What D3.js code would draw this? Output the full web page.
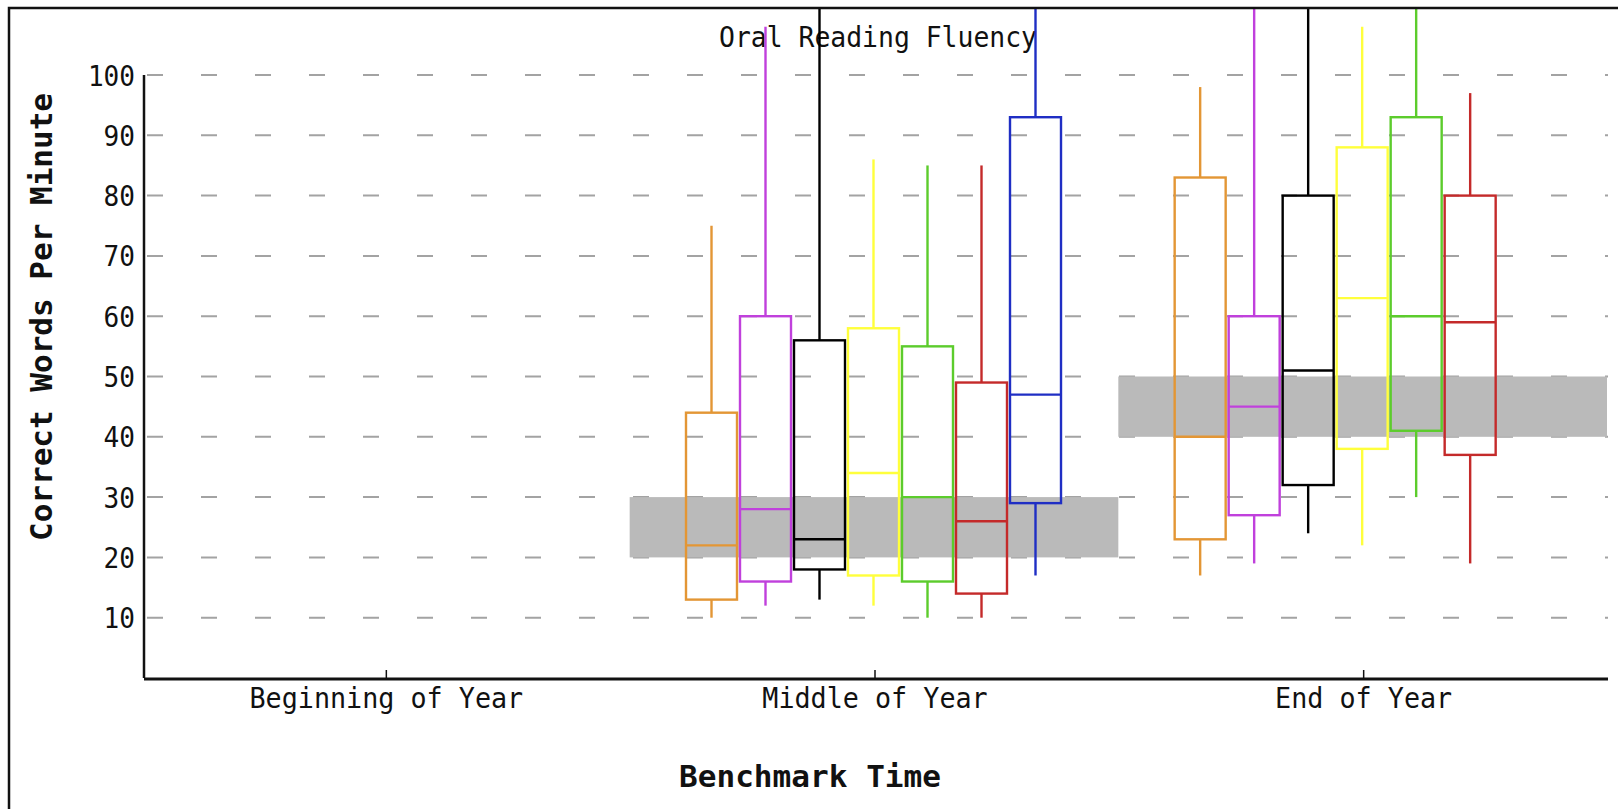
<!DOCTYPE html>
<html>
<head>
<meta charset="utf-8">
<script src="https://cdn.jsdelivr.net/npm/d3@7"></script>
<style>
  body { margin: 0; background: #fff; }
  text { font-family: "DejaVu Sans Mono", "Liberation Mono", monospace; fill: #111; }
</style>
</head>
<body>
<div id="container"></div>
<script>
// data

const benchmarks = ["Beginning of Year", "Middle of Year", "End of Year"]
const yTicks = [10, 20, 30, 40, 50, 60, 70, 80, 90, 100]

// benchmark target range per time (none for beginning)
const targetLow = [null, 20, 40]
const targetHigh = [null, 30, 50]

// middle of year, one value per group (7 groups)
const midLow = [10, 12, 13, 12, 10, 10, 17]
const midQ1 = [13, 16, 18, 17, 16, 14, 29]
const midMedian = [22, 28, 23, 34, 30, 26, 47]
const midQ3 = [44, 60, 56, 58, 55, 49, 93]
const midHigh = [75, 108, 125, 86, 85, 85, 125]

// end of year, first 6 groups
const endLow = [17, 19, 24, 22, 30, 19]
const endQ1 = [23, 27, 32, 38, 41, 37]
const endMedian = [40, 45, 51, 63, 60, 59]
const endQ3 = [83, 60, 80, 88, 93, 80]
const endHigh = [98, 125, 125, 108, 125, 97]

const colors = ["#e39635", "#c040dc", "#000000", "#ffff3c", "#5ccc2c", "#c42a2a", "#1f2ec4"]

// variables

const width = 1618
const height = 809

// build box rows from the arrays
const boxes = []
midLow.forEach((d, i) => boxes.push({time: benchmarks[1], group: i,
    low: midLow[i], q1: midQ1[i], med: midMedian[i], q3: midQ3[i], high: midHigh[i]}))
endLow.forEach((d, i) => boxes.push({time: benchmarks[2], group: i,
    low: endLow[i], q1: endQ1[i], med: endMedian[i], q3: endQ3[i], high: endHigh[i]}))

const targets = benchmarks.map((b, i) => ({time: b, lo: targetLow[i], hi: targetHigh[i]}))
    .filter(d => d.lo != null)

// scales

const xScale = d3.scaleBand()
    .domain(benchmarks)
    .range([142, 1608])

const slot = d3.scalePoint()
    .domain(d3.range(7))
    .range([-162, 162])

const yScale = d3.scaleLinear()
    .domain([0, 100])
    .range([678, 75])

const boxW = 51

// elements

const svg = d3.select("#container")
    .append("svg")
    .attr("width", width)
    .attr("height", height)
    .style("display", "block")

svg.append("rect")
    .attr("width", width).attr("height", height)
    .attr("fill", "#fff")

svg.append("defs").append("clipPath").attr("id", "plotclip")
    .append("rect")
    .attr("x", 0).attr("y", 9)
    .attr("width", width).attr("height", height)

// grid dashes
svg.append("g")
    .selectAll("line")
    .data(yTicks)
    .join("line")
    .attr("x1", 147)
    .attr("x2", 1608)
    .attr("y1", d => yScale(d))
    .attr("y2", d => yScale(d))
    .attr("stroke", "#a3a3a3")
    .attr("stroke-width", 2)
    .attr("stroke-dasharray", "16,38")

// title
svg.append("text")
    .attr("x", 878)
    .attr("y", 47)
    .attr("text-anchor", "middle")
    .attr("font-size", 28)
    .attr("textLength", 318)
    .attr("lengthAdjust", "spacingAndGlyphs")
    .text("Oral Reading Fluency")

// target bands
svg.append("g")
    .selectAll("rect")
    .data(targets)
    .join("rect")
    .attr("x", d => xScale(d.time) - 1)
    .attr("width", xScale.bandwidth())
    .attr("y", d => yScale(d.hi))
    .attr("height", d => yScale(d.lo) - yScale(d.hi))
    .attr("fill", "#bababa")

// boxes
const bx = d => xScale(d.time) + xScale.bandwidth() / 2 + slot(d.group) - 1.5

const boxG = svg.append("g")
    .attr("clip-path", "url(#plotclip)")
    .selectAll("g")
    .data(boxes)
    .join("g")
    .attr("stroke", d => colors[d.group])
    .attr("stroke-width", 2.4)
    .attr("fill", "none")

boxG.append("line") // upper whisker
    .attr("x1", bx).attr("x2", bx)
    .attr("y1", d => yScale(d.high))
    .attr("y2", d => yScale(d.q3))

boxG.append("line") // lower whisker
    .attr("x1", bx).attr("x2", bx)
    .attr("y1", d => yScale(d.q1))
    .attr("y2", d => yScale(d.low))

boxG.append("rect")
    .attr("x", d => bx(d) - boxW / 2)
    .attr("width", boxW)
    .attr("y", d => yScale(d.q3))
    .attr("height", d => yScale(d.q1) - yScale(d.q3))

boxG.append("line") // median
    .attr("x1", d => bx(d) - boxW / 2)
    .attr("x2", d => bx(d) + boxW / 2)
    .attr("y1", d => yScale(d.med))
    .attr("y2", d => yScale(d.med))

// axes

const yAxis = svg.append("g")
    .attr("transform", "translate(144,0)")
    .call(d3.axisLeft(yScale).tickValues(yTicks).tickSize(0).tickPadding(9))

yAxis.select(".domain")
    .attr("d", `M0,${yScale(100)}V${yScale(0)}`)
    .attr("stroke", "#111")
    .attr("stroke-width", 2.5)

yAxis.selectAll("text")
    .attr("font-size", 28)
    .attr("font-family", null)
    .attr("dy", "0.36em")
    .attr("textLength", d => String(d).length * 15.7)
    .attr("lengthAdjust", "spacingAndGlyphs")

const xAxis = svg.append("g")
    .attr("transform", "translate(0,679)")
    .call(d3.axisBottom(xScale).tickSizeInner(-9).tickSizeOuter(0))

xAxis.select(".domain")
    .attr("d", "M144,0H1608")
    .attr("stroke", "#111")
    .attr("stroke-width", 3)

xAxis.selectAll(".tick line")
    .attr("stroke", "#111")
    .attr("stroke-width", 1.5)

xAxis.selectAll("text")
    .attr("font-size", 28)
    .attr("font-family", null)
    .attr("y", 29)
    .attr("dy", 0)
    .attr("textLength", d => d.length * 16.1)
    .attr("lengthAdjust", "spacingAndGlyphs")

// axis titles
svg.append("text")
    .attr("x", 810)
    .attr("y", 787)
    .attr("text-anchor", "middle")
    .attr("font-size", 30)
    .attr("font-weight", "bold")
    .attr("textLength", 262)
    .attr("lengthAdjust", "spacingAndGlyphs")
    .text("Benchmark Time")

svg.append("text")
    .attr("transform", "translate(52,317) rotate(-90)")
    .attr("text-anchor", "middle")
    .attr("font-size", 30)
    .attr("font-weight", "bold")
    .attr("textLength", 448)
    .attr("lengthAdjust", "spacingAndGlyphs")
    .text("Correct Words Per Minute")

// outer frame
svg.append("rect")
    .attr("x", 9)
    .attr("y", 8)
    .attr("width", width + 20)
    .attr("height", height + 20)
    .attr("fill", "none")
    .attr("stroke", "#111")
    .attr("stroke-width", 2.5)
</script>
</body>
</html>
